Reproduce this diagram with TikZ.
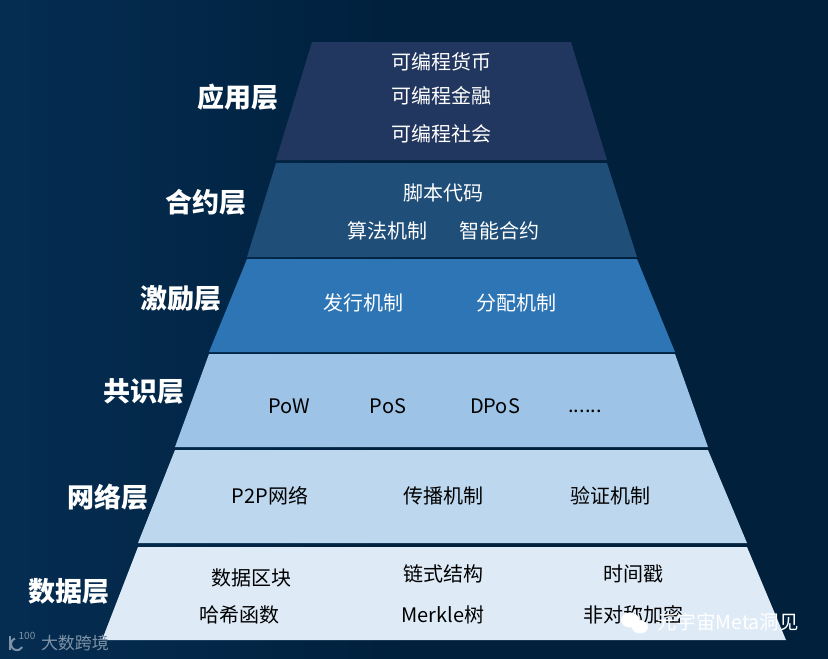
\documentclass[tikz,border=0pt]{standalone}
\usepackage{fontspec}
\setmainfont{Noto Sans CJK SC}
\usepackage{tikz}
\usetikzlibrary{positioning,shapes,backgrounds}
\definecolor{bgdark}{HTML}{00203C}
\definecolor{bgedge}{HTML}{052D52}
\definecolor{appfill}{HTML}{22375F}
\definecolor{contractfill}{HTML}{1F4E79}
\definecolor{incentivefill}{HTML}{2E75B6}
\definecolor{consensusfill}{HTML}{9DC3E6}
\definecolor{networkfill}{HTML}{BDD7EE}
\definecolor{datafill}{HTML}{DEEBF7}
\definecolor{markgray}{HTML}{7E93A6}

\begin{document}
\begin{tikzpicture}[
    x=1pt, y=-1pt,
    title/.style={font=\fontsize{27}{29}\selectfont\bfseries, text=white, inner sep=0pt},
    lighttext/.style={font=\fontsize{20}{22}\selectfont, text=white, inner sep=0pt},
    darktext/.style={font=\fontsize{20}{22}\selectfont, text=black, inner sep=0pt},
    mark text/.style={font=\fontsize{19.5}{21}\selectfont, inner sep=0pt}
]
\useasboundingbox (0,0) rectangle (828,659);
\shade[left color=bgedge, right color=bgdark, middle color=bgdark] (0,0) rectangle (828,659);

% layers
\fill[appfill] (312,42) -- (571,42) -- (607,160) -- (276,160) -- cycle;
\fill[contractfill] (276,163) -- (607,163) -- (637,257) -- (247,257) -- cycle;
\fill[incentivefill] (247,259) -- (637,259) -- (675,352) -- (209,352) -- cycle;
\fill[consensusfill] (209,354) -- (675,354) -- (708,447) -- (175,447) -- cycle;
\fill[networkfill] (175,450) -- (708,450) -- (747,543) -- (138,543) -- cycle;
\fill[datafill] (138,547) -- (747,547) -- (786,640) -- (102,640) -- cycle;

% layer names
\node[title] (app) at (238,97) {应用层};
\node[title] (contract) at (206,202) {合约层};
\node[title] (incentive) at (181,298) {激励层};
\node[title] (consensus) at (144,391) {共识层};
\node[title] (network) at (108,497) {网络层};
\node[title] (data) at (69,591) {数据层};

% application
\node[lighttext] (money) at (441,62) {可编程货币};
\node[lighttext] (finance) at (441,96) {可编程金融};
\node[lighttext] (society) at (441,134) {可编程社会};

% contract
\node[lighttext] (script) at (443,193) {脚本代码};
\node[lighttext] (algo) at (387,231) {算法机制};
\node[lighttext] (smart) at (499,231) {智能合约};

% incentive
\node[lighttext] (issue) at (363,303) {发行机制};
\node[lighttext] (alloc) at (516,303) {分配机制};

% consensus
\node[darktext] (pow) at (289,406) {PoW};
\node[darktext] (pos) at (388,406) {PoS};
\node[darktext] (dpos) at (495,406) {DPoS};
\node[darktext, anchor=base] (more) at (585,412) {......};

% network
\node[darktext] (ptop) at (270,496) {P2P网络};
\node[darktext] (spread) at (443,496) {传播机制};
\node[darktext] (verify) at (610,496) {验证机制};

% data
\node[darktext] (block) at (251,578) {数据区块};
\node[darktext] (chain) at (443,574) {链式结构};
\node[darktext] (stamp) at (633,574) {时间戳};
\node[darktext] (hash) at (239,615) {哈希函数};
\node[darktext] (merkle) at (443,615) {Merkle树};
\node[darktext] (crypt) at (633,615) {非对称加密};

% watermarks
\fill[white] (630,620) ellipse (9 and 7.5);
\fill[white] (640,627) ellipse (8 and 6.5);
\node[mark text, text=white] (meta) at (728,622) {元宇宙Meta洞见};
\node[mark text, text=markgray, font=\fontsize{17}{18}\selectfont] (brand) at (75,643) {大数跨境};
\node[text=markgray, font=\fontsize{10}{11}\selectfont, inner sep=0pt] (logo) at (27,636) {100};
\draw[markgray, line width=2pt] (10,636) -- (10,650);
\draw[markgray, line width=2pt] (15,638.5) arc (250:30:6);
\end{tikzpicture}
\end{document}
